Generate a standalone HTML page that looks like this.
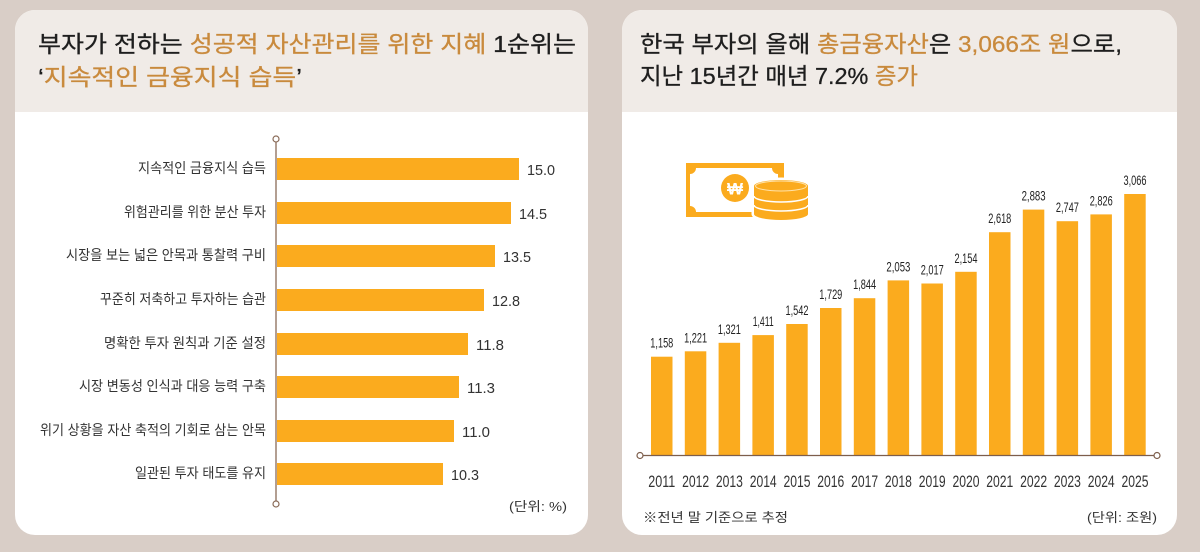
<!DOCTYPE html>
<html>
<head>
<meta charset="utf-8">
<style>
html,body{margin:0;padding:0;background:#d9cec7;}
svg{display:block;}
text{font-family:"Liberation Sans","Noto Sans CJK KR",sans-serif;}
</style>
</head>
<body>
<svg width="1200" height="552" viewBox="0 0 1200 552" xmlns="http://www.w3.org/2000/svg">
  <defs>
    <clipPath id="cl"><rect x="15" y="10" width="573" height="525" rx="20" ry="20"/></clipPath>
    <clipPath id="cr"><rect x="622" y="10" width="555" height="525" rx="20" ry="20"/></clipPath>
  </defs>
  <rect x="0" y="0" width="1200" height="552" fill="#d9cec7"/>

  <!-- LEFT PANEL -->
  <g clip-path="url(#cl)">
    <rect x="15" y="10" width="573" height="525" fill="#ffffff"/>
    <rect x="15" y="10" width="573" height="102" fill="#f0ebe7"/>
  </g>
  <text x="38" y="52" font-size="23" font-weight="400" fill="#1e1e1e" stroke="#1e1e1e" stroke-width="0.3" textLength="538" lengthAdjust="spacingAndGlyphs">부자가 전하는 <tspan fill="#c98a3d" stroke="#c98a3d">성공적 자산관리를 위한 지혜</tspan> 1순위는</text>
  <text x="38" y="85" font-size="23" font-weight="400" fill="#1e1e1e" stroke="#1e1e1e" stroke-width="0.3" textLength="264" lengthAdjust="spacingAndGlyphs">‘<tspan fill="#c98a3d" stroke="#c98a3d">지속적인 금융지식 습득</tspan>’</text>

  <!-- axis -->
  <line x1="276" y1="142" x2="276" y2="501" stroke="#8a6b58" stroke-width="1.3"/>
  <circle cx="276" cy="139" r="3" fill="#fff" stroke="#8a6b58" stroke-width="1.2"/>
  <circle cx="276" cy="504" r="3" fill="#fff" stroke="#8a6b58" stroke-width="1.2"/>

  <g fill="#fbab1e">
    <rect x="277" y="158" width="242" height="22"/>
    <rect x="277" y="202" width="234" height="22"/>
    <rect x="277" y="245" width="218" height="22"/>
    <rect x="277" y="289" width="207" height="22"/>
    <rect x="277" y="333" width="191" height="22"/>
    <rect x="277" y="376" width="182" height="22"/>
    <rect x="277" y="420" width="177" height="22"/>
    <rect x="277" y="463" width="166" height="22"/>
  </g>
  <g font-size="14" fill="#333">
    <text x="138" y="173" textLength="128" lengthAdjust="spacingAndGlyphs">지속적인 금융지식 습득</text>
    <text x="124" y="217" textLength="142" lengthAdjust="spacingAndGlyphs">위험관리를 위한 분산 투자</text>
    <text x="66" y="260" textLength="200" lengthAdjust="spacingAndGlyphs">시장을 보는 넓은 안목과 통찰력 구비</text>
    <text x="100" y="304" textLength="166" lengthAdjust="spacingAndGlyphs">꾸준히 저축하고 투자하는 습관</text>
    <text x="104" y="348" textLength="162" lengthAdjust="spacingAndGlyphs">명확한 투자 원칙과 기준 설정</text>
    <text x="79" y="391" textLength="187" lengthAdjust="spacingAndGlyphs">시장 변동성 인식과 대응 능력 구축</text>
    <text x="40" y="435" textLength="226" lengthAdjust="spacingAndGlyphs">위기 상황을 자산 축적의 기회로 삼는 안목</text>
    <text x="135" y="478" textLength="131" lengthAdjust="spacingAndGlyphs">일관된 투자 태도를 유지</text>
  </g>
  <g font-size="15" fill="#333">
    <text x="527" y="175" textLength="28" lengthAdjust="spacingAndGlyphs">15.0</text>
    <text x="519" y="219" textLength="28" lengthAdjust="spacingAndGlyphs">14.5</text>
    <text x="503" y="262" textLength="28" lengthAdjust="spacingAndGlyphs">13.5</text>
    <text x="492" y="306" textLength="28" lengthAdjust="spacingAndGlyphs">12.8</text>
    <text x="476" y="350" textLength="28" lengthAdjust="spacingAndGlyphs">11.8</text>
    <text x="467" y="393" textLength="28" lengthAdjust="spacingAndGlyphs">11.3</text>
    <text x="462" y="437" textLength="28" lengthAdjust="spacingAndGlyphs">11.0</text>
    <text x="451" y="480" textLength="28" lengthAdjust="spacingAndGlyphs">10.3</text>
  </g>
  <text x="509" y="511" font-size="13" fill="#333" textLength="58" lengthAdjust="spacingAndGlyphs">(단위: %)</text>

  <!-- RIGHT PANEL -->
  <g clip-path="url(#cr)">
    <rect x="622" y="10" width="555" height="525" fill="#ffffff"/>
    <rect x="622" y="10" width="555" height="102" fill="#f0ebe7"/>
  </g>
  <text x="640" y="52" font-size="23" font-weight="400" fill="#1e1e1e" stroke="#1e1e1e" stroke-width="0.3" textLength="482" lengthAdjust="spacingAndGlyphs">한국 부자의 올해 <tspan fill="#c98a3d" stroke="#c98a3d">총금융자산</tspan>은 <tspan fill="#c98a3d" stroke="#c98a3d">3,066조 원</tspan>으로,</text>
  <text x="640" y="84" font-size="23" font-weight="400" fill="#1e1e1e" stroke="#1e1e1e" stroke-width="0.3" textLength="278" lengthAdjust="spacingAndGlyphs">지난 15년간 매년 7.2% <tspan fill="#c98a3d" stroke="#c98a3d">증가</tspan></text>

  <!-- icon -->
  <rect x="686" y="163" width="98" height="54" fill="#fbab1e"/>
  <path d="M696,168 H772 A6,6 0 0 0 778,174 V206 A6,6 0 0 0 772,212 H696 A6,6 0 0 0 690,206 V174 A6,6 0 0 0 696,168 Z" fill="#ffffff"/>
  <circle cx="735" cy="188" r="14" fill="#fbab1e"/>
  <text x="735" y="194.5" font-size="17" font-weight="700" fill="#ffffff" text-anchor="middle" font-family="DejaVu Sans, Liberation Sans, sans-serif">₩</text>
  <g>
    <path d="M754,186 A27,6 0 0 1 808,186 V214 A27,6 0 0 1 754,214 Z" fill="#ffffff" stroke="#ffffff" stroke-width="5"/>
    <path d="M754,186 A27,6 0 0 1 808,186 V214 A27,6 0 0 1 754,214 Z" fill="#fbab1e"/>
    <ellipse cx="781" cy="186" rx="25.5" ry="5" fill="none" stroke="#ffe2a8" stroke-width="1"/>
    <path d="M754,196 A27,6 0 0 0 808,196" fill="none" stroke="#ffffff" stroke-width="1.5"/>
    <path d="M754,205 A27,6 0 0 0 808,205" fill="none" stroke="#ffffff" stroke-width="1.5"/>
  </g>

  <!-- bars -->
  <g fill="#fbab1e">
    <rect x="651.0" y="356.7" width="21.5" height="98.8"/>
    <rect x="684.8" y="351.3" width="21.5" height="104.2"/>
    <rect x="718.6" y="342.8" width="21.5" height="112.7"/>
    <rect x="752.4" y="335.1" width="21.5" height="120.4"/>
    <rect x="786.2" y="324.0" width="21.5" height="131.5"/>
    <rect x="820.0" y="308.0" width="21.5" height="147.5"/>
    <rect x="853.8" y="298.2" width="21.5" height="157.3"/>
    <rect x="887.6" y="280.4" width="21.5" height="175.1"/>
    <rect x="921.4" y="283.5" width="21.5" height="172.0"/>
    <rect x="955.2" y="271.8" width="21.5" height="183.7"/>
    <rect x="989.0" y="232.2" width="21.5" height="223.3"/>
    <rect x="1022.8" y="209.6" width="21.5" height="245.9"/>
    <rect x="1056.6" y="221.2" width="21.5" height="234.3"/>
    <rect x="1090.4" y="214.4" width="21.5" height="241.1"/>
    <rect x="1124.2" y="194.0" width="21.5" height="261.5"/>
  </g>
  <line x1="643" y1="455.5" x2="1154" y2="455.5" stroke="#7d5e4c" stroke-width="1.3"/>
  <circle cx="640" cy="455.5" r="3" fill="#fff" stroke="#7d5e4c" stroke-width="1.2"/>
  <circle cx="1157" cy="455.5" r="3" fill="#fff" stroke="#7d5e4c" stroke-width="1.2"/>

  <g font-size="14" fill="#222" text-anchor="middle">
    <text x="661.8" y="347.7" textLength="23" lengthAdjust="spacingAndGlyphs">1,158</text>
    <text x="695.6" y="342.3" textLength="23" lengthAdjust="spacingAndGlyphs">1,221</text>
    <text x="729.4" y="333.8" textLength="23" lengthAdjust="spacingAndGlyphs">1,321</text>
    <text x="763.2" y="326.1" textLength="21" lengthAdjust="spacingAndGlyphs">1,411</text>
    <text x="797.0" y="315.0" textLength="23" lengthAdjust="spacingAndGlyphs">1,542</text>
    <text x="830.8" y="299.0" textLength="23" lengthAdjust="spacingAndGlyphs">1,729</text>
    <text x="864.6" y="289.2" textLength="23" lengthAdjust="spacingAndGlyphs">1,844</text>
    <text x="898.4" y="271.4" textLength="24" lengthAdjust="spacingAndGlyphs">2,053</text>
    <text x="932.2" y="274.5" textLength="23" lengthAdjust="spacingAndGlyphs">2,017</text>
    <text x="966.0" y="262.8" textLength="23" lengthAdjust="spacingAndGlyphs">2,154</text>
    <text x="999.8" y="223.2" textLength="23" lengthAdjust="spacingAndGlyphs">2,618</text>
    <text x="1033.6" y="200.6" textLength="24" lengthAdjust="spacingAndGlyphs">2,883</text>
    <text x="1067.4" y="212.2" textLength="23" lengthAdjust="spacingAndGlyphs">2,747</text>
    <text x="1101.2" y="205.4" textLength="23" lengthAdjust="spacingAndGlyphs">2,826</text>
    <text x="1135.0" y="185.0" textLength="23" lengthAdjust="spacingAndGlyphs">3,066</text>
  </g>
  <g font-size="17" fill="#333" text-anchor="middle">
    <text x="661.8" y="487" textLength="27" lengthAdjust="spacingAndGlyphs">2011</text>
    <text x="695.6" y="487" textLength="27" lengthAdjust="spacingAndGlyphs">2012</text>
    <text x="729.4" y="487" textLength="27" lengthAdjust="spacingAndGlyphs">2013</text>
    <text x="763.2" y="487" textLength="27" lengthAdjust="spacingAndGlyphs">2014</text>
    <text x="797.0" y="487" textLength="27" lengthAdjust="spacingAndGlyphs">2015</text>
    <text x="830.8" y="487" textLength="27" lengthAdjust="spacingAndGlyphs">2016</text>
    <text x="864.6" y="487" textLength="27" lengthAdjust="spacingAndGlyphs">2017</text>
    <text x="898.4" y="487" textLength="27" lengthAdjust="spacingAndGlyphs">2018</text>
    <text x="932.2" y="487" textLength="27" lengthAdjust="spacingAndGlyphs">2019</text>
    <text x="966.0" y="487" textLength="27" lengthAdjust="spacingAndGlyphs">2020</text>
    <text x="999.8" y="487" textLength="27" lengthAdjust="spacingAndGlyphs">2021</text>
    <text x="1033.6" y="487" textLength="27" lengthAdjust="spacingAndGlyphs">2022</text>
    <text x="1067.4" y="487" textLength="27" lengthAdjust="spacingAndGlyphs">2023</text>
    <text x="1101.2" y="487" textLength="27" lengthAdjust="spacingAndGlyphs">2024</text>
    <text x="1135.0" y="487" textLength="27" lengthAdjust="spacingAndGlyphs">2025</text>
  </g>
  <text x="643" y="522" font-size="13" fill="#333" textLength="145" lengthAdjust="spacingAndGlyphs">※전년 말 기준으로 추정</text>
  <text x="1087" y="522" font-size="13" fill="#333" textLength="70" lengthAdjust="spacingAndGlyphs">(단위: 조원)</text>
</svg>
</body>
</html>
